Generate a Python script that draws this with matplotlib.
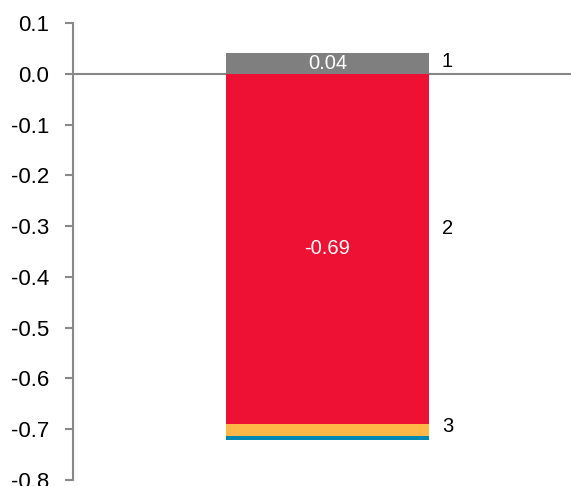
import matplotlib
matplotlib.use("Agg")
import matplotlib.pyplot as plt

plt.rcParams['font.family'] = ['Liberation Sans', 'DejaVu Sans']

categories = [""]
series_names = ["1", "2", "3", "4"]
series_values = [0.04, -0.69, -0.023, -0.008]
series_colors = ["#7F7F7F", "#EE1133", "#FFB847", "#0088B2"]
value_labels = ["0.04", "-0.69", None, None]
name_positions = [0.025, -0.305, -0.695, None]
y_ticks = [0.1, 0.0, -0.1, -0.2, -0.3, -0.4, -0.5, -0.6, -0.7, -0.8]

fig = plt.figure(figsize=(5.71, 4.86), dpi=100)
ax = fig.add_axes([73 / 571, 6 / 486, 1 - 73 / 571, (480 - 23) / 486])

pos_base = 0.0
neg_base = 0.0
for name, val, col, lab in zip(series_names, series_values, series_colors, value_labels):
    if val >= 0:
        bottom = pos_base
        pos_base += val
    else:
        bottom = neg_base
        neg_base += val
    ax.bar(0, val, bottom=bottom, width=0.8, color=col, zorder=2)
    if lab is not None:
        ax.text(0, bottom + val / 2, lab, ha="center", va="center",
                color="white", fontsize=14.5, zorder=3)

for name, ypos in zip(series_names, name_positions):
    if ypos is not None:
        ax.text(0.45, ypos, name, ha="left", va="center", color="black", fontsize=14.5)

ax.axhline(0, color="#888888", linewidth=1.5, zorder=1)

ax.set_xlim(-1.0, 0.957)
ax.set_ylim(-0.8, 0.1)
ax.set_yticks(y_ticks)
ax.set_yticklabels([f"{t:.1f}" for t in y_ticks], fontsize=16)
ax.set_xticks([])

for s in ["top", "right", "bottom"]:
    ax.spines[s].set_visible(False)
ax.spines["left"].set_color("#888888")
ax.spines["left"].set_linewidth(1.5)
ax.tick_params(axis="y", colors="#888888", length=6, width=1.5, labelcolor="black", pad=11)

fig.savefig("out.png", dpi=100)
